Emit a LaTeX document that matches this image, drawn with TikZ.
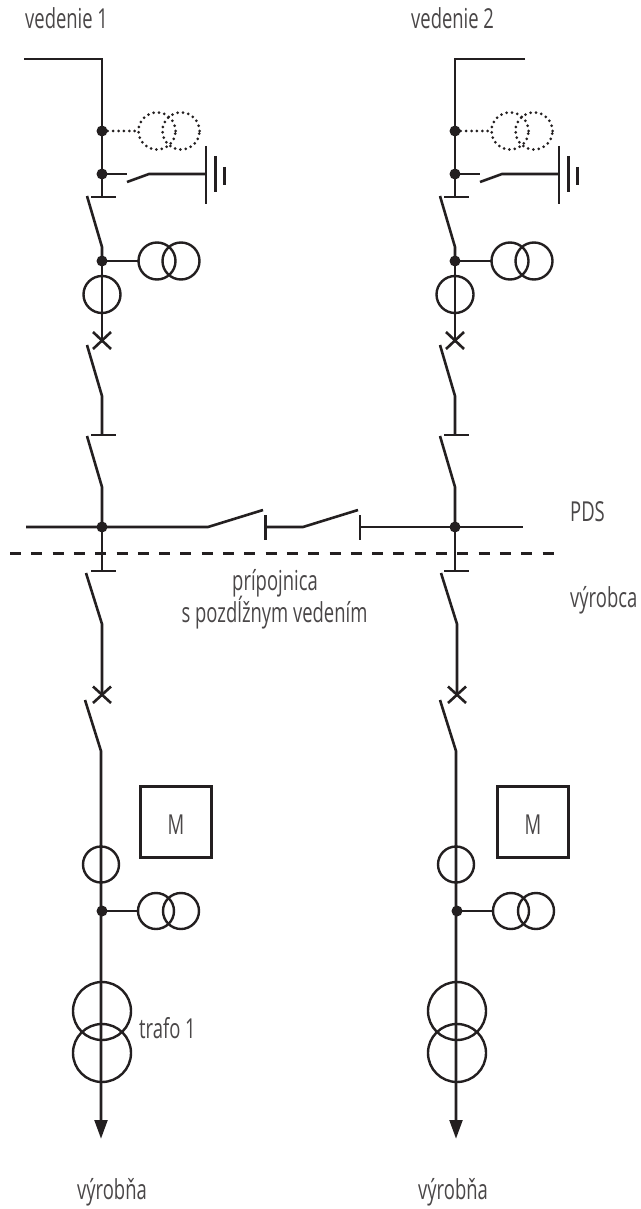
\documentclass[tikz,border=0pt]{standalone}
\usepackage{fontspec}
\setmainfont[FakeStretch=0.67]{Open Sans}
\newfontfamily\lblfont[FakeStretch=0.67]{Open Sans}
\definecolor{ink}{HTML}{231F20}
\definecolor{txt}{HTML}{4A4748}
\tikzset{
  wire/.style={draw=ink,line width=2.6pt},
  junction/.style={circle,fill=ink,draw=none,minimum size=11pt,inner sep=0pt},
  ring/.style={circle,draw=ink,line width=2.4pt,minimum size=#1,inner sep=0pt,outer sep=0pt},
  dotring/.style={circle,draw=ink,line width=3pt,dash pattern=on 0pt off 5.4pt,line cap=round,minimum size=37pt,inner sep=0pt,outer sep=0pt},
  dotwire/.style={draw=ink,line width=3pt,dash pattern=on 0pt off 5.4pt,line cap=round},
  lbl/.style={text=txt,font=\lblfont\fontsize{27.5}{30}\selectfont,inner sep=0pt,anchor=base west},
  tip/.style={fill=ink,draw=none},
}
\newcommand{\feederTop}[2]{% prefix, x
  \node[junction] (#1d1) at (#2,131) {};
  \node[dotring] (#1vd1) at (#2+55,131) {};
  \node[dotring] (#1vd2) at (#2+79,131) {};
  \draw[dotwire] (#1d1) -- (#1vd1.west);
  \node[junction] (#1d2) at (#2,174) {};
  \coordinate (#1e1) at (#2+25,174);
  \coordinate (#1e2) at (#2+25,182);
  \coordinate (#1e3) at (#2+47,174);
  \coordinate (#1g) at (#2+104,174);
  \coordinate (#1g1a) at (#2+104,146);
  \coordinate (#1g1b) at (#2+104,204);
  \coordinate (#1g2a) at (#2+113.5,156);
  \coordinate (#1g2b) at (#2+113.5,192);
  \coordinate (#1g3a) at (#2+122.5,167);
  \coordinate (#1g3b) at (#2+122.5,185);
  \draw[wire] (#1d2.center) -- (#1e1);
  \draw[wire] (#1e2) -- (#1e3) -- (#1g);
  \draw[wire] (#1g1a) -- (#1g1b);
  \draw[wire] (#1g2a) -- (#1g2b);
  \draw[wire] (#1g3a) -- (#1g3b);
  \coordinate (#1b1) at (#2,197);
  \coordinate (#1b1l) at (#2-11,197);
  \coordinate (#1b1r) at (#2+14,197);
  \draw[wire] (#1b1l) -- (#1b1r);
  \draw[wire] (#1d1.center) -- (#1d2.center) -- (#1b1);
  \coordinate (#1s1) at (#2-15,196);
  \coordinate (#1s2) at (#2,247);
  \node[junction] (#1d3) at (#2,261) {};
  \draw[wire] (#1s1) -- (#1s2) -- (#1d3.center);
  \node[ring=37pt] (#1v1) at (#2+55,261) {};
  \node[ring=37pt] (#1v2) at (#2+79,261) {};
  \draw[wire] (#1d3.center) -- (#1v1.west);
  \node[ring=37pt] (#1ct) at (#2,294.5) {};
  \coordinate (#1x) at (#2,341);
  \draw[wire] (#1d3.center) -- (#1x);
  \draw[wire] (#2-9,332) -- (#2+9,349);
  \draw[wire] (#2-9,349) -- (#2+9,332);
  \coordinate (#1s3) at (#2-15,345);
  \coordinate (#1s4) at (#2,396);
  \coordinate (#1b2) at (#2,435);
  \coordinate (#1s5) at (#2-15,436);
  \coordinate (#1s6) at (#2,487);
  \draw[wire] (#1s3) -- (#1s4) -- (#1b2);
  \draw[wire] (#2-11,435) -- (#2+14,435);
  \draw[wire] (#1s5) -- (#1s6) -- (#2,527);
}
\newcommand{\feederBottom}[5]{% prefix, x upper, x after disconnector, x after breaker, box x
  \coordinate (#1b3) at (#2,571);
  \draw[wire] (#2,527) -- (#1b3);
  \draw[wire] (#2-11,571) -- (#2+14,571);
  \coordinate (#1s7) at (#3-16,573);
  \coordinate (#1s8) at (#3,624);
  \coordinate (#1x2) at (#3,695);
  \draw[wire] (#1s7) -- (#1s8) -- (#1x2);
  \draw[wire] (#3-9,686.5) -- (#3+9,703);
  \draw[wire] (#3-9,703) -- (#3+9,686.5);
  \coordinate (#1s9) at (#4-16,700);
  \coordinate (#1s10) at (#4,751);
  \coordinate (#1end) at (#4,1122);
  \draw[wire] (#1s9) -- (#1s10) -- (#1end);
  \node[ring=36pt] (#1ct2) at (#4,864.5) {};
  \node[junction] (#1d4) at (#4+1,911) {};
  \node[ring=36pt] (#1v3) at (#4+55,911) {};
  \node[ring=36pt] (#1v4) at (#4+80,911) {};
  \draw[wire] (#1d4.center) -- (#1v3.west);
  \node[ring=58pt] (#1t1) at (#4+1,1011) {};
  \node[ring=58pt] (#1t2) at (#4+1,1053) {};
  \fill[tip] (#4-6.8,1120) -- (#4+6.8,1120) -- (#4,1138.5) -- cycle;
  \node[draw=ink,line width=2.6pt,minimum size=71pt,inner sep=0pt,outer sep=0pt] (#1box) at (#5,822) {};
  \node[lbl,anchor=base] (#1m) at (#5,834) {M};
}
\begin{document}
\begin{tikzpicture}[x=1pt,y=-1pt]
\useasboundingbox (0,0) rectangle (640,1209);
\fill[white] (0,0) rectangle (640,1209);
% labels
\node[lbl] (t1) at (25,29) {vedenie 1};
\node[lbl] (t2) at (411,29) {vedenie 2};
\node[lbl] (t3) at (570,521) {PDS};
\node[lbl] (t4) at (570,607) {výrobca};
\node[lbl,anchor=base] (t5) at (275,590) {prípojnica};
\node[lbl,anchor=base] (t6) at (274.5,622) {s pozdĺžnym vedením};
\node[lbl] (t7) at (139,1038) {trafo 1};
\node[lbl] (t8) at (77,1199) {výrobňa};
\node[lbl] (t9) at (418,1199) {výrobňa};
% incoming lines
\coordinate (la) at (24,59);
\coordinate (lb) at (102,59);
\coordinate (ra) at (525,59);
\coordinate (rb) at (455,59);
\feederTop{L}{102}
\feederTop{R}{455}
\draw[wire] (la) -- (lb) -- (Ld1.center);
\draw[wire] (ra) -- (rb) -- (Rd1.center);
\feederBottom{L}{102}{102}{101}{176}
\feederBottom{R}{455}{457}{456}{533}
% busbar
\node[junction] (Lbus) at (102,527) {};
\node[junction] (Rbus) at (455,527) {};
\coordinate (bw) at (26,527);
\coordinate (be) at (523,527);
\coordinate (c1) at (208,527);
\coordinate (c2) at (263,510);
\coordinate (c3) at (265.5,527);
\coordinate (c4) at (303,527);
\coordinate (c5) at (358,510);
\coordinate (c6) at (360,527);
\draw[wire] (bw) -- (Lbus.center) -- (c1) -- (c2);
\draw[wire] (c3) -- (c4) -- (c5);
\draw[wire] (c6) -- (Rbus.center) -- (be);
\draw[wire] (265.5,515) -- (265.5,540);
\draw[wire] (360,515) -- (360,540);
% boundary
\coordinate (da) at (10,553.5);
\coordinate (db) at (556,553.5);
\draw[draw=ink,line width=2.5pt,dash pattern=on 11pt off 10.3pt] (da) -- (db);
\end{tikzpicture}
\end{document}
